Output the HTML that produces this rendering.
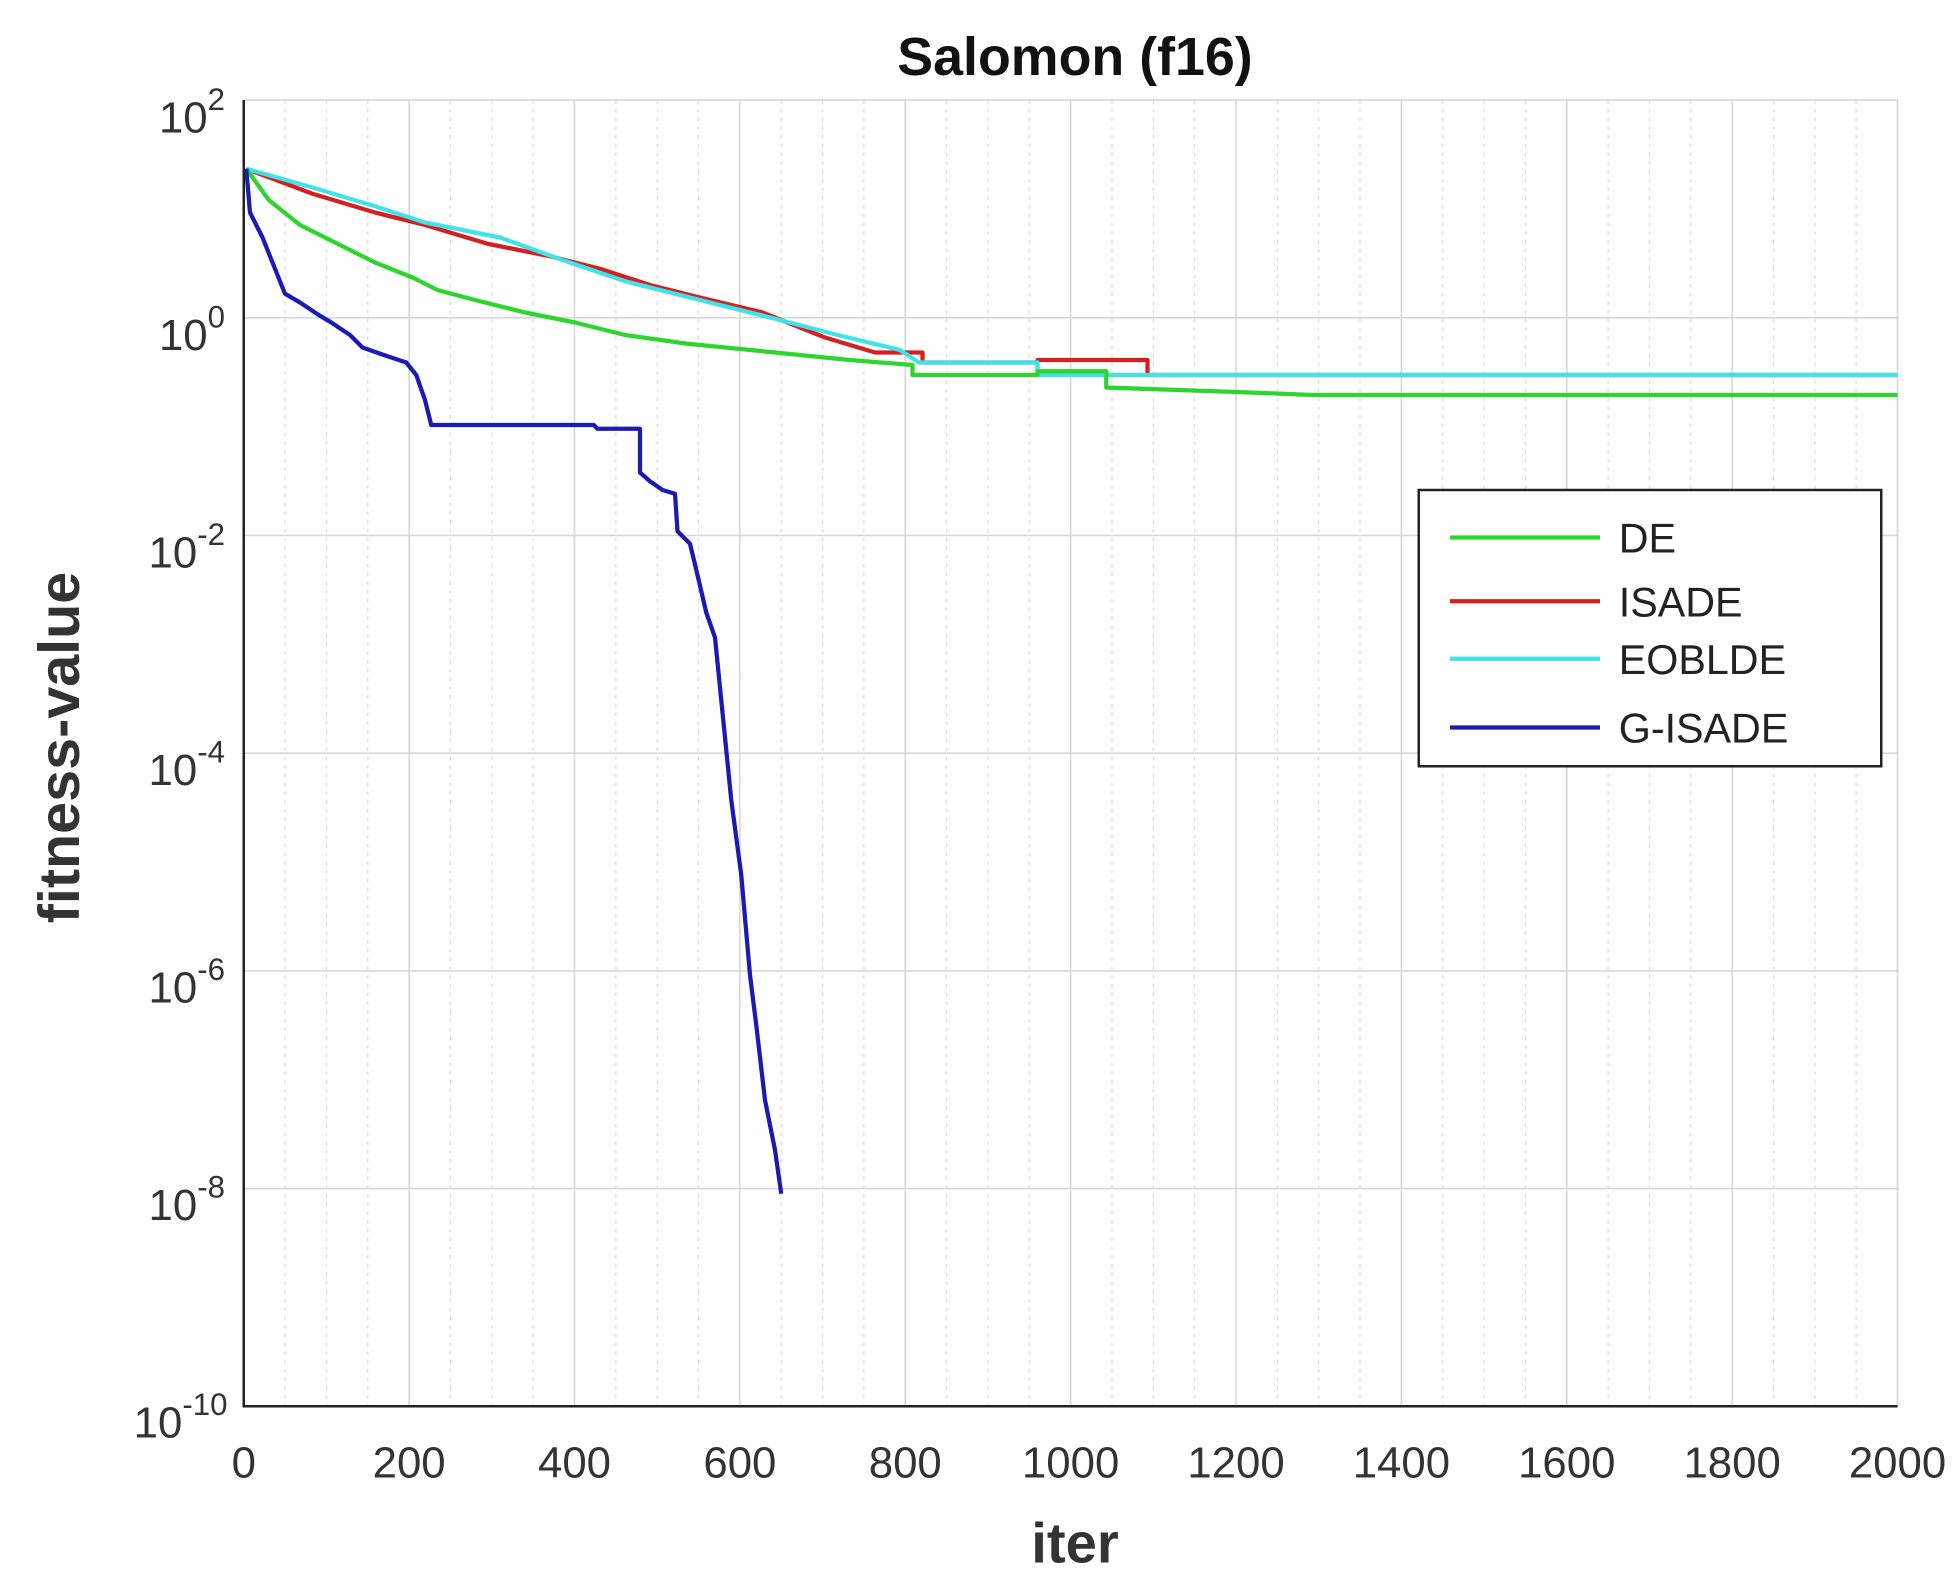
<!DOCTYPE html>
<html><head><meta charset="utf-8"><style>html,body{margin:0;padding:0;background:#fff}svg{display:block}</style></head>
<body>
<svg width="1960" height="1586" viewBox="0 0 1568 1268.8" xmlns="http://www.w3.org/2000/svg" font-family="Liberation Sans, sans-serif">
<rect width="1568" height="1268.8" fill="#fff"/>
<g stroke="#ddd" stroke-width="1" stroke-dasharray="3,4">
<line x1="228.1" y1="80" x2="228.1" y2="1125"/><line x1="261.2" y1="80" x2="261.2" y2="1125"/><line x1="294.2" y1="80" x2="294.2" y2="1125"/>
<line x1="360.4" y1="80" x2="360.4" y2="1125"/><line x1="393.5" y1="80" x2="393.5" y2="1125"/><line x1="426.5" y1="80" x2="426.5" y2="1125"/>
<line x1="492.7" y1="80" x2="492.7" y2="1125"/><line x1="525.8" y1="80" x2="525.8" y2="1125"/><line x1="558.8" y1="80" x2="558.8" y2="1125"/>
<line x1="625" y1="80" x2="625" y2="1125"/><line x1="658.1" y1="80" x2="658.1" y2="1125"/><line x1="691.1" y1="80" x2="691.1" y2="1125"/>
<line x1="757.3" y1="80" x2="757.3" y2="1125"/><line x1="790.4" y1="80" x2="790.4" y2="1125"/><line x1="823.4" y1="80" x2="823.4" y2="1125"/>
<line x1="889.6" y1="80" x2="889.6" y2="1125"/><line x1="922.7" y1="80" x2="922.7" y2="1125"/><line x1="955.7" y1="80" x2="955.7" y2="1125"/>
<line x1="1021.9" y1="80" x2="1021.9" y2="1125"/><line x1="1055" y1="80" x2="1055" y2="1125"/><line x1="1088" y1="80" x2="1088" y2="1125"/>
<line x1="1154.2" y1="80" x2="1154.2" y2="1125"/><line x1="1187.3" y1="80" x2="1187.3" y2="1125"/><line x1="1220.3" y1="80" x2="1220.3" y2="1125"/>
<line x1="1286.5" y1="80" x2="1286.5" y2="1125"/><line x1="1319.6" y1="80" x2="1319.6" y2="1125"/><line x1="1352.6" y1="80" x2="1352.6" y2="1125"/>
<line x1="1418.8" y1="80" x2="1418.8" y2="1125"/><line x1="1451.9" y1="80" x2="1451.9" y2="1125"/><line x1="1484.9" y1="80" x2="1484.9" y2="1125"/>
</g>
<g stroke="#d8d8d8" stroke-width="1.3">
<line x1="327.3" y1="80" x2="327.3" y2="1125"/><line x1="459.6" y1="80" x2="459.6" y2="1125"/><line x1="591.9" y1="80" x2="591.9" y2="1125"/>
<line x1="724.2" y1="80" x2="724.2" y2="1125"/><line x1="856.5" y1="80" x2="856.5" y2="1125"/><line x1="988.8" y1="80" x2="988.8" y2="1125"/>
<line x1="1121.1" y1="80" x2="1121.1" y2="1125"/><line x1="1253.4" y1="80" x2="1253.4" y2="1125"/><line x1="1385.7" y1="80" x2="1385.7" y2="1125"/>
<line x1="1518" y1="80" x2="1518" y2="1125"/>
<line x1="195" y1="80" x2="1518" y2="80"/>
<line x1="195" y1="254.2" x2="1518" y2="254.2"/><line x1="195" y1="428.3" x2="1518" y2="428.3"/><line x1="195" y1="602.5" x2="1518" y2="602.5"/>
<line x1="195" y1="776.7" x2="1518" y2="776.7"/><line x1="195" y1="950.8" x2="1518" y2="950.8"/>
</g>
<g fill="none" stroke-width="3.4" stroke-linejoin="round">
<polyline stroke="#d42020" points="197,135 250,155 300,170 340,180 390,195 440,205 480,215 520,228 560,238 610,250 660,270 700,282 738,282 738,290 830,290 830,288 918,288 918,300 1518,300"/>
<polyline stroke="#3fe3e8" points="197,135 250,150 300,165 340,178 400,190 450,208 500,225 560,240 620,255 670,268 720,280 735,290 830,290 830,300 1518,300"/>
<polyline stroke="#2ed52e" points="197,135 215,160 240,180 270,195 300,210 330,222 350,232 380,240 420,250 460,258 500,268 550,275 620,282 680,288 730,292 730,300 830,300 830,297 885,297 885,310 1000,314 1050,316 1518,316"/>
<polyline stroke="#1a1ab5" points="197,135 200,170 210,190 220,215 228,235 240,242 255,252 265,258 280,268 290,278 310,285 325,290 333,300 340,320 345,340 475,340 478,343 512,343 512,378 520,385 530,392 540,395 542,425 552,435 558,460 565,490 572,510 578,570 585,640 593,700 600,780 605,820 612,880 620,920 625,955"/>
</g>
<g stroke="#222" stroke-width="2">
<line x1="195" y1="80" x2="195" y2="1126"/><line x1="194" y1="1125" x2="1518" y2="1125"/>
</g>
<g fill="#333" font-size="35" text-anchor="middle">
<text x="195" y="1182">0</text><text x="327.3" y="1182">200</text><text x="459.6" y="1182">400</text><text x="591.9" y="1182">600</text><text x="724.2" y="1182">800</text><text x="856.5" y="1182">1000</text><text x="988.8" y="1182">1200</text><text x="1121.1" y="1182">1400</text><text x="1253.4" y="1182">1600</text><text x="1385.7" y="1182">1800</text><text x="1518" y="1182">2000</text>
</g>
<g fill="#333" font-size="35" text-anchor="end">
<text x="180" y="106">10<tspan font-size="25" dy="-18">2</tspan></text>
<text x="180" y="280">10<tspan font-size="25" dy="-18">0</tspan></text>
<text x="180" y="454">10<tspan font-size="25" dy="-18">-2</tspan></text>
<text x="180" y="628">10<tspan font-size="25" dy="-18">-4</tspan></text>
<text x="180" y="802">10<tspan font-size="25" dy="-18">-6</tspan></text>
<text x="180" y="976">10<tspan font-size="25" dy="-18">-8</tspan></text>
<text x="182" y="1150">10<tspan font-size="25" dy="-18">-10</tspan></text>
</g>
<text x="860" y="60" font-size="43" font-weight="bold" text-anchor="middle" fill="#111">Salomon (f16)</text>
<text x="860" y="1250" font-size="45" font-weight="bold" text-anchor="middle" fill="#333">iter</text>
<text transform="translate(63,598) rotate(-90)" font-size="46" font-weight="bold" text-anchor="middle" fill="#333">fitness-value</text>
<rect x="1135" y="392" width="370" height="221" fill="#fff" stroke="#222" stroke-width="2"/>
<g stroke-width="3.4">
<line x1="1160" y1="430" x2="1280" y2="430" stroke="#2ed52e"/>
<line x1="1160" y1="481" x2="1280" y2="481" stroke="#d42020"/>
<line x1="1160" y1="527" x2="1280" y2="527" stroke="#3fe3e8"/>
<line x1="1160" y1="582" x2="1280" y2="582" stroke="#1a1ab5"/>
</g>
<g fill="#222" font-size="33">
<text x="1295" y="442">DE</text><text x="1295" y="493">ISADE</text><text x="1295" y="539">EOBLDE</text><text x="1295" y="594">G-ISADE</text>
</g>
</svg>
</body></html>
